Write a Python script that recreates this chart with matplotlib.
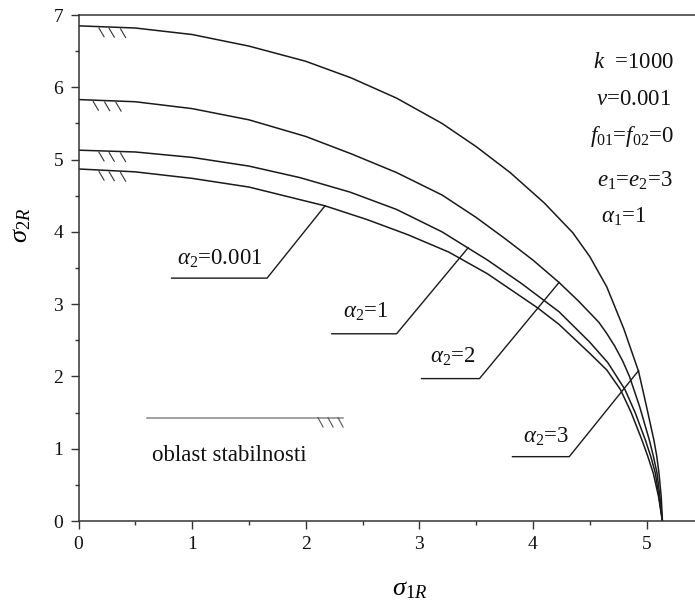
import numpy as np
import matplotlib
matplotlib.use("Agg")
import matplotlib.pyplot as plt
from matplotlib.ticker import MultipleLocator

plt.rcParams['font.family'] = ['Liberation Serif', 'DejaVu Serif']
plt.rcParams['mathtext.fontset'] = 'custom'
plt.rcParams['mathtext.rm'] = 'Liberation Serif'
plt.rcParams['mathtext.it'] = 'Liberation Serif:italic'
plt.rcParams['mathtext.bf'] = 'Liberation Serif:bold'

# ---- data ----
x_a3 = [0, 0.5, 1.0, 1.5, 2.0, 2.4, 2.8, 3.2, 3.5, 3.8, 4.1, 4.35, 4.5, 4.65, 4.8, 4.93, 4.995, 5.065, 5.09, 5.11, 5.13, 5.14]
y_a3 = [6.85, 6.82, 6.73, 6.57, 6.36, 6.13, 5.85, 5.50, 5.18, 4.82, 4.40, 3.99, 3.66, 3.24, 2.66, 2.07, 1.62, 1.12, 0.90, 0.66, 0.33, 0.0]

x_a2 = [0, 0.5, 1.0, 1.5, 2.0, 2.4, 2.8, 3.2, 3.5, 3.76, 4.0, 4.23, 4.4, 4.58, 4.65, 4.72, 4.79, 4.85, 4.94, 5.025, 5.06, 5.093, 5.118, 5.14]
y_a2 = [5.83, 5.80, 5.705, 5.55, 5.32, 5.08, 4.82, 4.51, 4.20, 3.90, 3.61, 3.30, 3.045, 2.75, 2.595, 2.42, 2.215, 2.0, 1.58, 1.12, 0.90, 0.66, 0.33, 0.0]

x_a1 = [0, 0.5, 1.0, 1.5, 1.95, 2.39, 2.8, 3.2, 3.6, 3.9, 4.23, 4.5, 4.66, 4.81, 4.90, 4.99, 5.04, 5.078, 5.11, 5.14]
y_a1 = [5.13, 5.105, 5.03, 4.91, 4.75, 4.55, 4.31, 4.00, 3.61, 3.285, 2.895, 2.475, 2.19, 1.82, 1.50, 1.12, 0.88, 0.66, 0.33, 0.0]

x_a0 = [0, 0.5, 1.0, 1.5, 2.17, 2.54, 2.9, 3.26, 3.6, 4.04, 4.23, 4.5, 4.65, 4.77, 4.865, 4.96, 5.01, 5.06, 5.107, 5.14]
y_a0 = [4.87, 4.83, 4.74, 4.62, 4.36, 4.17, 3.96, 3.72, 3.42, 2.95, 2.72, 2.32, 2.09, 1.82, 1.50, 1.12, 0.90, 0.66, 0.33, 0.0]

curves = [(x_a3, y_a3), (x_a2, y_a2), (x_a1, y_a1), (x_a0, y_a0)]
hatch_x = [[0.18, 0.27, 0.37], [0.13, 0.23, 0.33], [0.18, 0.27, 0.37], [0.18, 0.27, 0.37]]

# labels with leader lines
label_texts = [r'$\alpha_2$=0.001', r'$\alpha_2$=1', r'$\alpha_2$=2', r'$\alpha_2$=3']
label_pos = [(0.867, 3.55), (2.33, 2.81), (3.09, 2.19), (3.91, 1.08)]
under_x0 = [0.82, 2.23, 3.02, 3.82]
under_end = [(1.66, 3.36), (2.80, 2.59), (3.53, 1.97), (4.32, 0.89)]
leader_end = [(2.17, 4.36), (3.43, 3.78), (4.23, 3.30), (4.93, 2.08)]

info_texts = [r'$k$  =1000', r'$\nu$=0.001', r'$f_{01}$=$f_{02}$=0', r'$e_1$=$e_2$=3', r'$\alpha_1$=1']
info_pos = [(4.886, 6.27), (4.89, 5.75), (4.877, 5.24), (4.894, 4.63), (4.80, 4.13)]

stab_line_x = [0.60, 2.33]
stab_line_y = 1.43
stab_hatch_x = [2.108, 2.196, 2.284]
stab_text_pos = (0.647, 0.83)

x_ticks = [0, 1, 2, 3, 4, 5]
y_ticks = [0, 1, 2, 3, 4, 5, 6, 7]

# ---- figure ----
W, H = 695, 603
fig = plt.figure(figsize=(W / 100, H / 100), dpi=100)
x0px, y0px, ytop = 78.5, 521, 15
ax = fig.add_axes([x0px / W, 1 - y0px / H, 1 - x0px / W, (y0px - ytop) / H])
ax.set_xlim(0, (W - x0px) / 113.6)
ax.set_ylim(0, 7)

lc = '#1a1a1a'
for (xs, ys), hx in zip(curves, hatch_x):
    ax.plot(xs, ys, color=lc, lw=1.1, solid_joinstyle='round')
    for h in hx:
        yc = np.interp(h, xs, ys)
        ax.plot([h, h + 0.045], [yc - 0.02, yc - 0.14], color='#333333', lw=0.8)

for t, (tx, ty), ux0, (ux1, uy), (lx, ly) in zip(label_texts, label_pos, under_x0, under_end, leader_end):
    ax.plot([ux0, ux1, lx], [uy, uy, ly], color=lc, lw=1.0)
    ax.text(tx, ty, t, fontsize=16.5, ha='left', va='baseline', color='#111111')

for t, (tx, ty) in zip(info_texts, info_pos):
    ax.text(tx, ty, t, fontsize=16.5, ha='center', va='baseline', color='#111111')

ax.plot(stab_line_x, [stab_line_y, stab_line_y], color='#888888', lw=1.1)
for h in stab_hatch_x:
    ax.plot([h, h + 0.045], [stab_line_y, stab_line_y - 0.13], color='#555555', lw=0.8)
ax.text(stab_text_pos[0], stab_text_pos[1], 'oblast stabilnosti', fontsize=16.5,
        ha='left', va='baseline', color='#111111')

ax.set_xticks(x_ticks)
ax.set_yticks(y_ticks)
ax.xaxis.set_minor_locator(MultipleLocator(0.5))
ax.yaxis.set_minor_locator(MultipleLocator(0.5))
ax.tick_params(which='major', direction='out', length=6, width=1.0, labelsize=14, pad=5, colors='#333333', labelcolor='#111111')
ax.tick_params(which='minor', direction='out', length=3, width=1.0, colors='#333333')
ax.tick_params(top=False, right=False, which='both')
ax.spines['right'].set_visible(False)
for s in ['left', 'bottom', 'top']:
    ax.spines[s].set_linewidth(1.1)
    ax.spines[s].set_color('#333333')

fig.text(410 / W, 1 - 590 / H, r'$\sigma_{1R}$', fontsize=19, ha='center', va='center')
fig.text(22 / W, 1 - 225 / H, r'$\sigma_{2R}$', fontsize=19, ha='center', va='center', rotation=90)

fig.savefig('out.png', dpi=100)
